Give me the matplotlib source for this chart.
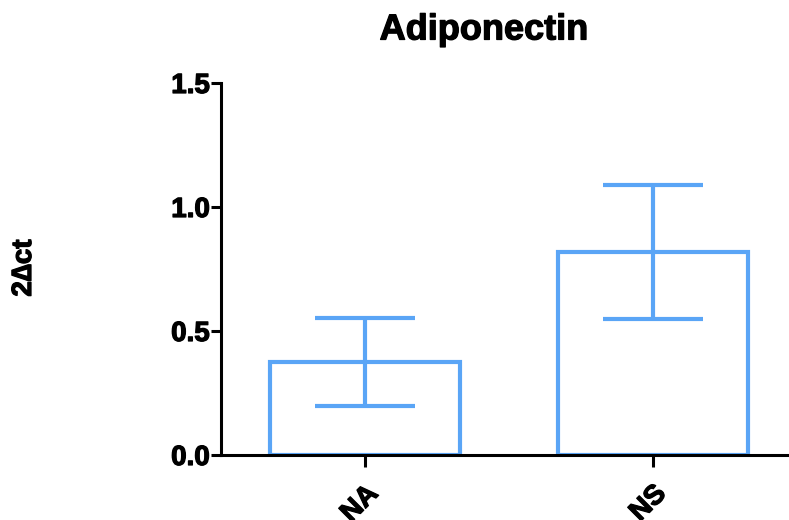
import matplotlib.pyplot as plt
import matplotlib.patheffects as pe

groups = ['NA', 'NS']
means = [0.375, 0.82]
errors = [0.178, 0.27]
yticks = [0.0, 0.5, 1.0, 1.5]

blue = '#5AA5F6'

plt.rcParams['font.family'] = ['Liberation Sans', 'DejaVu Sans']
plt.rcParams['font.weight'] = 'bold'
heavy = [pe.withStroke(linewidth=0.9, foreground='black')]

fig = plt.figure(figsize=(7.89, 5.20), dpi=100)
ax = fig.add_axes([221 / 789, 65 / 520, 1 - 221 / 789, (455 - 83) / 520])

xs = list(range(len(groups)))
ax.bar(xs, means, width=0.66, facecolor='none', edgecolor=blue, linewidth=3.0,
       joinstyle='miter')
ax.errorbar(xs, means, yerr=errors, fmt='none', ecolor=blue, elinewidth=3.0,
            capsize=36, capthick=3.0, dash_capstyle='round', solid_capstyle='round')

ax.set_xlim(-0.5, 1.472)
ax.set_ylim(0, 1.5)
ax.set_yticks(yticks)
ax.set_yticklabels(['{:.1f}'.format(t) for t in yticks], fontsize=20,
                   fontweight='bold', path_effects=heavy)
ax.set_xticks(xs)
ax.set_xticklabels(groups, fontsize=20, fontweight='bold', rotation=45,
                   ha='right', rotation_mode='anchor', path_effects=heavy)

for side in ['top', 'right']:
    ax.spines[side].set_visible(False)
for side in ['left', 'bottom']:
    ax.spines[side].set_linewidth(2.2)
    ax.spines[side].set_color('black')
ax.tick_params(axis='y', length=7, width=2.2, color='black', pad=1)
ax.tick_params(axis='x', length=8.5, width=2.2, color='black', pad=10)

fig.text(484 / 789, 1 - 30 / 520, 'Adiponectin', fontsize=26, fontweight='bold',
         ha='center', va='center', path_effects=heavy)
fig.text(24 / 789, 1 - 268 / 520, '2\u2206ct', rotation=90, fontsize=20,
         fontweight='bold', ha='center', va='center', path_effects=heavy)

fig.savefig('out.png', dpi=100)
